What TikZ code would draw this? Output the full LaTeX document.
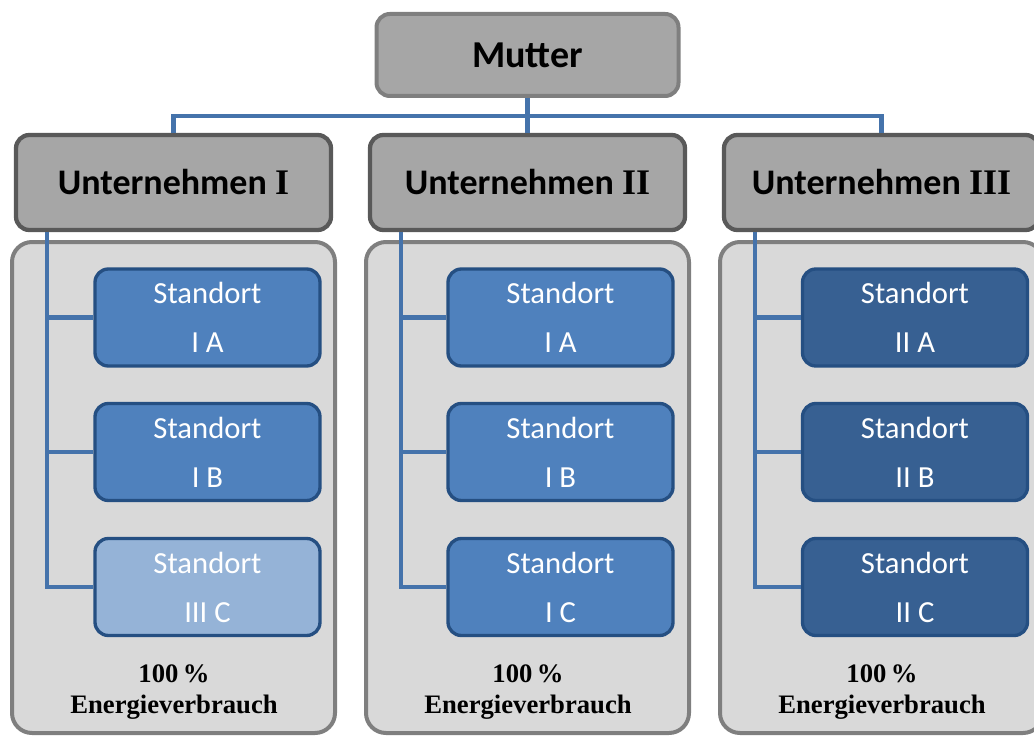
\documentclass[tikz,border=0pt]{standalone}
\usepackage{fontspec}
\setmainfont{Carlito}
\newfontfamily\numfont{Liberation Serif}

\definecolor{topgray}{HTML}{A6A6A6}
\definecolor{topline}{HTML}{7F7F7F}
\definecolor{uline}{HTML}{595959}
\definecolor{boxgray}{HTML}{D9D9D9}
\definecolor{linkblue}{HTML}{4573AB}
\definecolor{siteblue}{HTML}{4F81BD}
\definecolor{sitelight}{HTML}{95B3D7}
\definecolor{sitedark}{HTML}{376092}
\definecolor{siteline}{HTML}{254F82}

\begin{document}
\begin{tikzpicture}
  [x=0.75pt,y=-0.75pt,
   every node/.style={inner sep=0pt},
   mother/.style={rounded corners=10pt,line width=3pt,fill=topgray,draw=topline,
     minimum width=226.5pt,minimum height=61.5pt,font=\fontsize{28.5}{30}\selectfont\bfseries},
   company/.style={rounded corners=10pt,line width=3.2pt,fill=topgray,draw=uline,
     minimum width=236.25pt,minimum height=71.25pt,font=\fontsize{27}{30}\selectfont\bfseries},
   group/.style={rounded corners=15pt,line width=3pt,fill=boxgray,draw=topline,
     minimum width=242.25pt,minimum height=368.25pt},
   site/.style={rounded corners=10pt,line width=2.5pt,fill=siteblue,draw=siteline,text=white,
     minimum width=168.75pt,minimum height=72.75pt,align=center,
     font=\fontsize{23}{36.75}\selectfont},
   share/.style={align=center,font=\numfont\bfseries\fontsize{20}{23.25}\selectfont},
   link/.style={draw=linkblue,line width=3.6pt}]
  \useasboundingbox (0,0) rectangle (1034,738);

  % grey groups behind
  \node[group] (ng1) at (173.5,487.5) {};
  \node[group] (ng2) at (527.5,487.5) {};
  \node[group] (ng3) at (881.5,487.5) {};

  \node[mother] (nm) at (527.5,55) {Mutter};
  \node[company] (nu1) at (173.5,182.5) {Unternehmen {\numfont I}};
  \node[company] (nu2) at (527.5,182.5) {Unternehmen {\numfont II}};
  \node[company] (nu3) at (881.5,182.5) {Unternehmen {\numfont III}};

  \node[site] (ns1a) at (207.5,317.5) {Standort\\I A};
  \node[site] (ns1b) at (207.5,452) {Standort\\I B};
  \node[site,fill=sitelight] (ns1c) at (207.5,587) {Standort\\III C};
  \node[site] (ns2a) at (560.5,317.5) {Standort\\I A};
  \node[site] (ns2b) at (560.5,452) {Standort\\I B};
  \node[site] (ns2c) at (560.5,587) {Standort\\I C};
  \node[site,fill=sitedark] (ns3a) at (915,317.5) {Standort\\II A};
  \node[site,fill=sitedark] (ns3b) at (915,452) {Standort\\II B};
  \node[site,fill=sitedark] (ns3c) at (915,587) {Standort\\II C};

  \node[share] (np1) at (174,692) {100\,\%\\Energieverbrauch};
  \node[share] (np2) at (528,692) {100\,\%\\Energieverbrauch};
  \node[share] (np3) at (882,692) {100\,\%\\Energieverbrauch};

  % connectors
  \coordinate (bar) at (527.5,116);
  \draw[link] (nm.south) -- (nu2.north);
  \draw[link] (nu1.north) |- (bar) -| (nu3.north);

  \coordinate (t1) at (47,232);
  \coordinate (t2) at (401,232);
  \coordinate (t3) at (755,232);
  \foreach \i in {1,2,3} {
    \draw[link] (t\i) |- (ns\i c.west);
    \draw[link] (t\i |- ns\i a.west) -- (ns\i a.west);
    \draw[link] (t\i |- ns\i b.west) -- (ns\i b.west);
  }
\end{tikzpicture}
\end{document}
